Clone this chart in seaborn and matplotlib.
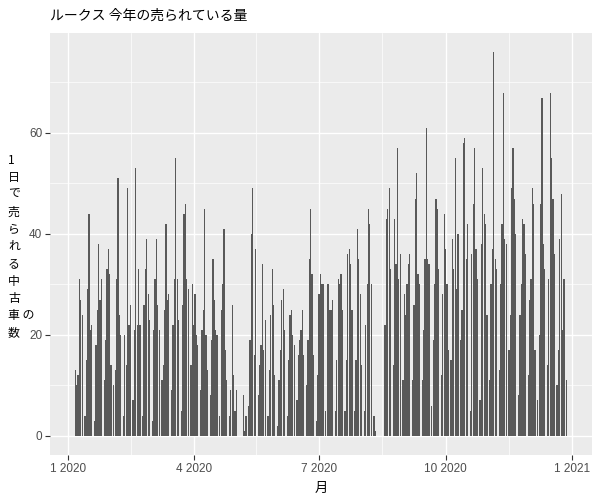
import numpy as np
import pandas as pd
import matplotlib
matplotlib.use("Agg")
import matplotlib.pyplot as plt
import matplotlib.dates as mdates
from matplotlib.ticker import FixedLocator, FuncFormatter
import seaborn as sns

# ---- data: cars sold per day in 2020 (0 = no sales that day, no bar) ----
title = "ルークス 今年の売られている量"
x_title = "月"
y_title_lines = ["1", "日", "で", "売", "ら", "れ", "る", "中", "古", "車 の", "数"]
year_start = "2020-01-01"
year_end = "2020-12-31"

jan = [0, 0, 0, 0, 0, 13, 10, 12, 31, 27, 24, 0, 4, 15, 29, 44, 21, 22, 0,
       3, 18, 25, 38, 27, 31, 0, 11, 19, 33, 37, 32]
feb = [14, 0, 10, 13, 31, 51, 24, 20, 0, 4, 20, 14, 49, 22, 26, 0, 7, 21, 53,
       22, 33, 22, 0, 4, 26, 33, 39, 28, 23]
mar = [0, 3, 21, 31, 39, 26, 21, 0, 11, 14, 25, 42, 27, 28, 0, 9, 22, 31, 55,
       31, 23, 0, 5, 26, 44, 46, 31, 29, 0, 14, 30]
apr = [22, 28, 20, 18, 0, 9, 21, 25, 45, 20, 13, 0, 8, 19, 35, 27, 21, 20, 0,
       4, 25, 30, 41, 17, 11, 0, 4, 9, 26, 12]
may = [5, 9, 0, 0, 0, 0, 8, 1, 4, 0, 6, 19, 40, 49, 16, 37, 0, 8, 14, 18, 34,
       17, 23, 0, 4, 13, 24, 33, 26, 12, 0]
jun = [2, 11, 17, 27, 29, 21, 0, 4, 15, 24, 25, 20, 18, 0, 7, 16, 19, 21, 25,
       16, 0, 10, 19, 35, 45, 32, 16, 0, 3, 12]
jul = [28, 32, 30, 30, 0, 5, 30, 30, 25, 25, 27, 0, 5, 15, 31, 30, 32, 25, 0,
       5, 15, 36, 37, 34, 25, 0, 5, 15, 41, 35, 28]
aug = [14, 0, 5, 22, 30, 45, 42, 30, 0, 4, 1, 0, 0, 0, 0, 0, 0, 22, 43, 45,
       49, 33, 0, 14, 43, 34, 57, 31, 36, 0, 11]
sep = [28, 24, 30, 34, 36, 0, 11, 26, 47, 52, 32, 30, 0, 11, 21, 35, 61, 35,
       34, 0, 6, 19, 30, 47, 45, 33, 0, 12, 28, 44]
oct_ = [37, 30, 17, 0, 15, 39, 33, 55, 29, 40, 0, 19, 25, 58, 59, 35, 42, 0,
        5, 36, 46, 57, 37, 31, 0, 7, 38, 53, 44, 42, 24]
nov = [0, 11, 30, 37, 76, 35, 33, 0, 13, 30, 42, 68, 39, 38, 0, 17, 24, 49,
       57, 47, 40, 0, 8, 24, 30, 43, 42, 36, 0, 12]
dec = [27, 31, 49, 46, 17, 0, 7, 20, 46, 67, 38, 33, 0, 14, 31, 68, 55, 47,
       36, 0, 10, 17, 39, 48, 21, 31, 0, 11, 0, 0, 0]

x_breaks = ["2020-01-01", "2020-04-01", "2020-07-01", "2020-10-01", "2021-01-01"]
y_breaks = [0, 20, 40, 60]

# ---- frame ----
counts = np.concatenate([jan, feb, mar, apr, may, jun, jul, aug, sep, oct_, nov, dec])
dates = pd.date_range(year_start, year_end, freq="D")
df = pd.DataFrame({"date": dates, "n": counts})
df = df[df["n"] > 0].copy()
df["x"] = mdates.date2num(df["date"])

# ---- style (ggplot2 theme_grey look) ----
sns.set_style("darkgrid", {
    "axes.facecolor": "#EBEBEB",
    "grid.color": "white",
    "axes.edgecolor": "none",
})
plt.rcParams["font.family"] = ["Liberation Sans", "Noto Sans CJK JP", "DejaVu Sans"]
cjk = ["Noto Sans CJK JP", "DejaVu Sans"]

fig = plt.figure(figsize=(6, 5), dpi=100)
ax = fig.add_axes([50 / 600, 1 - 455 / 500, 542 / 600, 422 / 500])

sns.barplot(data=df, x="x", y="n", native_scale=True, width=0.9,
            color="#595959", saturation=1, errorbar=None,
            linewidth=0, edgecolor="none", ax=ax, zorder=3)

# limits with ggplot-like 5% expansion
lo = df["x"].min() - 0.45
hi = df["x"].max() + 0.45
span = hi - lo
ax.set_xlim(lo - 0.05 * span, hi + 0.05 * span)
ymax = df["n"].max()
ax.set_ylim(-0.05 * ymax, ymax * 1.05)

# ticks
major = [mdates.date2num(pd.Timestamp(d)) for d in x_breaks]
minor = [(a + b) / 2 for a, b in zip(major[:-1], major[1:])]
ax.xaxis.set_major_locator(FixedLocator(major))
ax.xaxis.set_minor_locator(FixedLocator(minor))
ax.xaxis.set_major_formatter(FuncFormatter(
    lambda v, p: f"{mdates.num2date(v).month} {mdates.num2date(v).year}"))
ax.yaxis.set_major_locator(FixedLocator(y_breaks))
ax.yaxis.set_minor_locator(FixedLocator([b + 10 for b in y_breaks]))

ax.grid(which="major", color="white", linewidth=1.0, zorder=0)
ax.grid(which="minor", color="white", linewidth=0.5, zorder=0)
ax.set_axisbelow(True)
ax.tick_params(axis="both", which="major", length=3.5, width=0.8,
               color="#333333", labelcolor="#4D4D4D", labelsize=8.5, pad=2,
               bottom=True, left=True)
ax.tick_params(axis="both", which="minor", length=0)
for s in ax.spines.values():
    s.set_visible(False)

ax.set_xlabel("")
ax.set_ylabel("")
fig.text(321 / 600, 1 - 488 / 500, x_title, ha="center", va="center",
         fontsize=9.5, family=cjk, color="black")

# vertical (stacked) y-axis title: one character per line
pitch = 17.3          # px between lines
top_line = 160        # px from top for first line
for i, s in enumerate(y_title_lines):
    fig.text(8 / 600, 1 - (top_line + i * pitch) / 500, s, ha="left",
             va="center", fontsize=8.6, family=cjk, color="black")

fig.text(50 / 600, 1 - 16 / 500, title, ha="left", va="center",
         fontsize=10, family=cjk, color="black")

fig.savefig("out.png", dpi=100)
